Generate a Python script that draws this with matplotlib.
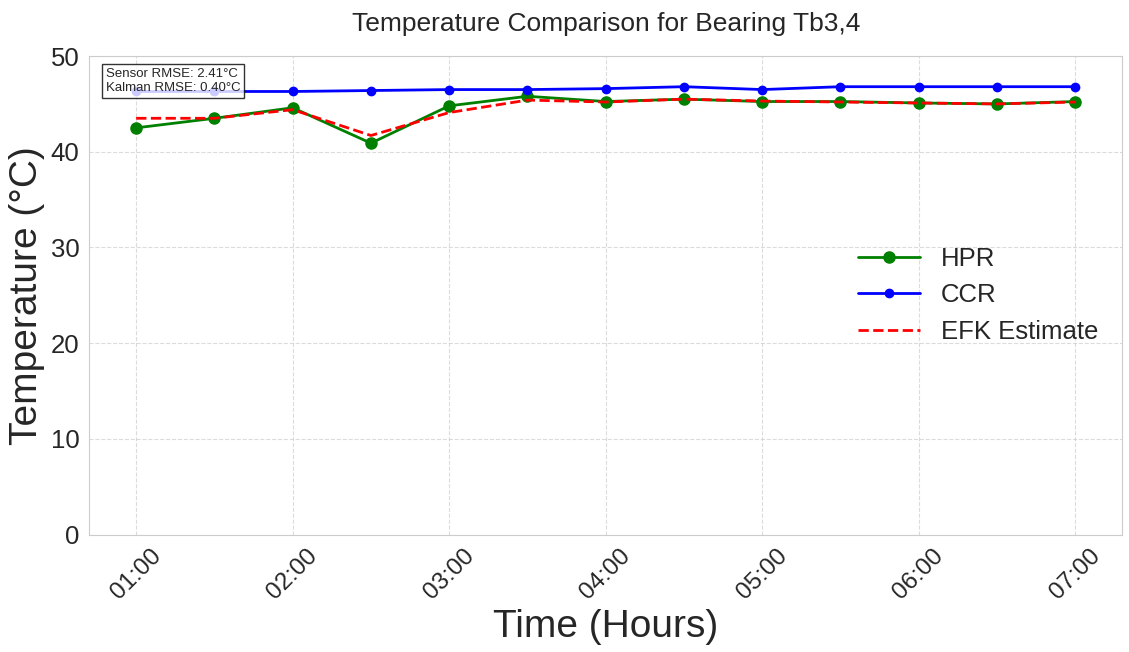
import matplotlib
matplotlib.use("Agg")
import matplotlib.pyplot as plt
import seaborn as sns
import numpy as np

times = ["01:00", "01:30", "02:00", "02:30", "03:00", "03:30", "04:00",
         "04:30", "05:00", "05:30", "06:00", "06:30", "07:00"]
hpr = [42.5, 43.5, 44.6, 40.9, 44.8, 45.8, 45.25, 45.5, 45.25, 45.25, 45.1, 45.0, 45.25]
ccr = [46.3, 46.3, 46.3, 46.4, 46.5, 46.5, 46.6, 46.8, 46.5, 46.8, 46.8, 46.8, 46.8]
efk = [43.5, 43.5, 44.4, 41.7, 44.1, 45.4, 45.2, 45.5, 45.3, 45.2, 45.1, 45.0, 45.2]
tick_labels = ["01:00", "02:00", "03:00", "04:00", "05:00", "06:00", "07:00"]

sns.set_style("whitegrid", {"grid.linestyle": "--"})
plt.rcParams['font.family'] = ['Liberation Sans', 'DejaVu Sans']

fig = plt.figure(figsize=(11.29, 6.52), dpi=100)
ax = fig.add_axes([0.079, 0.18, 0.915, 0.734])

x = np.arange(len(times)) * 0.5
ax.plot(x, hpr, color='green', marker='o', markersize=8, linewidth=2, label='HPR')
ax.plot(x, ccr, color='blue', marker='o', markersize=6, linewidth=2, label='CCR')
ax.plot(x, efk, color='red', linestyle='--', linewidth=2, label='EFK Estimate')

ax.set_ylim(0, 50)
ax.set_xticks(x[::2])
ax.set_xticklabels(tick_labels, rotation=45, fontsize=17.5)
ax.tick_params(axis='y', labelsize=18.5)
ax.set_xlabel("Time (Hours)", fontsize=28)
ax.set_ylabel("Temperature (°C)", fontsize=28)
ax.set_title("Temperature Comparison for Bearing Tb3,4", fontsize=19, pad=18)
ax.grid(True, linestyle='--', alpha=0.7)

ax.legend(loc='center right', bbox_to_anchor=(0.999, 0.5), fontsize=18.5, frameon=False,
          handlelength=2.4)
ax.text(0.016, 0.975, "Sensor RMSE: 2.41°C\nKalman RMSE: 0.40°C", transform=ax.transAxes,
        fontsize=9.5, va='top', ha='left',
        bbox=dict(boxstyle='square,pad=0.3', facecolor='white', edgecolor='black', alpha=0.8))

fig.savefig("out.png", dpi=100)
